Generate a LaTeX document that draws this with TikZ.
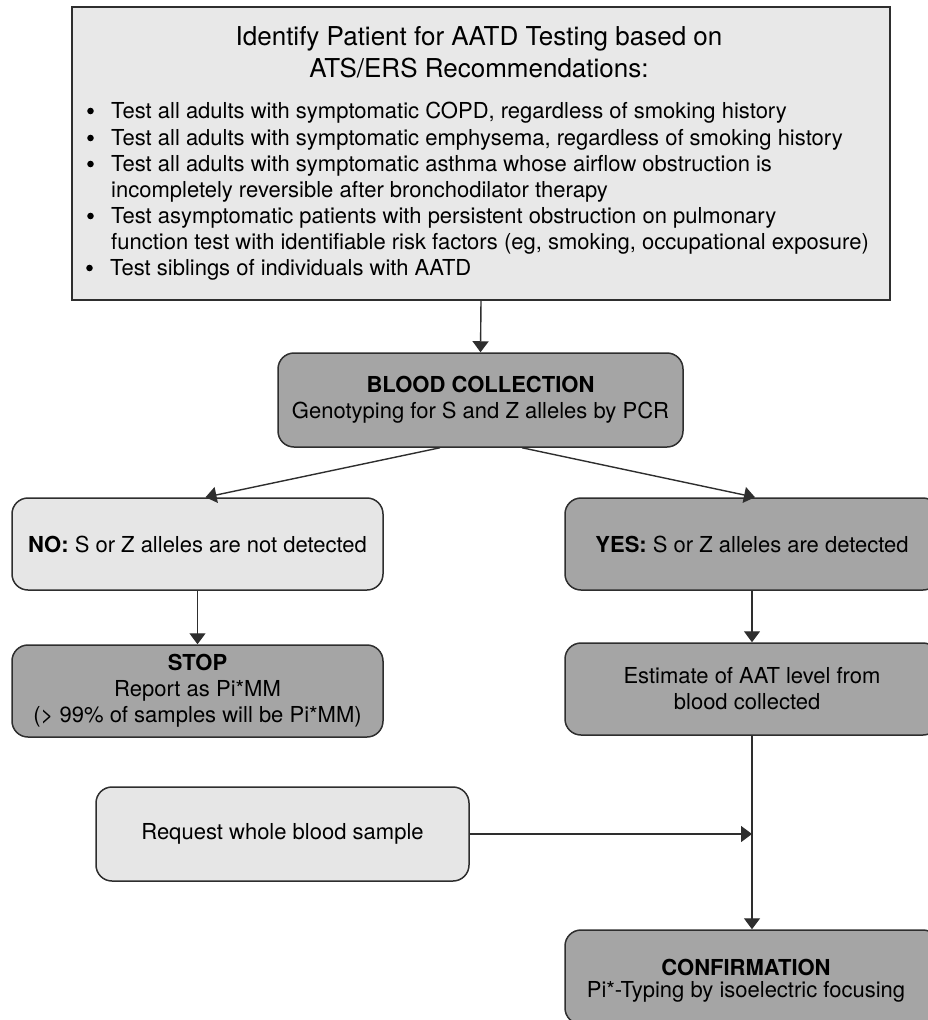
\documentclass[tikz,border=0pt]{standalone}
\usepackage{fontspec}
\setmainfont{TeX Gyre Heros}
\usetikzlibrary{arrows.meta}
\definecolor{lightbox}{HTML}{E6E6E6}
\definecolor{topbox}{HTML}{E8E8E8}
\definecolor{darkbox}{HTML}{A5A5A5}
\definecolor{edge}{HTML}{2E2E2E}
\tikzset{
  box/.style={draw=edge, line width=1.5pt, rounded corners=16pt, inner sep=0pt,
    align=center, font=\fontsize{22}{26}\selectfont},
  lightnode/.style={box, fill=lightbox},
  darknode/.style={box, fill=darkbox},
  arr/.style={draw=edge, line width=1.4pt, -{Triangle[width=16pt,length=11pt]}},
  bul/.style={inner sep=0pt, anchor=base west, font=\fontsize{22}{26}\selectfont},
  ttl/.style={inner sep=0pt, anchor=base, font=\fontsize{26}{32}\selectfont},
  dot/.style={fill=black},
}
\newcommand{\nb}{\hspace*{25pt}}
\begin{document}
\begin{tikzpicture}[x=1pt,y=-1pt]
\useasboundingbox (0,0) rectangle (927,1020);

% top box
\node[draw=edge, line width=1.8pt, fill=topbox, minimum width=818pt, minimum height=293pt, inner sep=0pt] (top) at (481,153.5) {};
\node[ttl] (t1) at (479,45) {Identify Patient for AATD Testing based on};
\node[ttl] (t2) at (479,77) {ATS/ERS Recommendations:};
\node[bul] (b1) at (86,118) {\nb Test all adults with symptomatic COPD, regardless of smoking history};
\node[bul] (b2) at (86,145) {\nb Test all adults with symptomatic emphysema, regardless of smoking history};
\node[bul] (b3) at (86,171) {\nb Test all adults with symptomatic asthma whose airflow obstruction is};
\node[bul] (b4) at (86,197) {\nb incompletely reversible after bronchodilator therapy};
\node[bul] (b5) at (86,223) {\nb Test asymptomatic patients with persistent obstruction on pulmonary};
\node[bul] (b6) at (86,249) {\nb function test with identifiable risk factors (eg, smoking, occupational exposure)};
\node[bul] (b7) at (85,275) {\nb Test siblings of individuals with AATD};
\foreach \b in {b1,b2,b3,b5,b7}
  \fill[dot] ([xshift=4.5pt,yshift=7pt]\b.base west) circle (3.3pt);

% boxes
\node[darknode, minimum width=405pt, minimum height=94pt] (blood) at (480.5,400)
  {\textbf{BLOOD COLLECTION}\\Genotyping for S and Z alleles by PCR};
\node[lightnode, minimum width=371pt, minimum height=92pt] (no) at (197.5,544)
  {\textbf{NO:} S or Z alleles are not detected};
\node[darknode, minimum width=374pt, minimum height=92pt] (yes) at (752,544)
  {\textbf{YES:} S or Z alleles are detected};
\node[darknode, minimum width=371pt, minimum height=92pt] (stop) at (197.5,691)
  {\textbf{STOP}\\Report as Pi*MM\\(> 99\% of samples will be Pi*MM)};
\node[darknode, minimum width=374pt, minimum height=92pt] (est) at (752,689)
  {Estimate of AAT level from\\blood collected\hphantom{ii}};
\node[lightnode, minimum width=373pt, minimum height=94pt] (req) at (282.5,834)
  {Request whole blood sample};
\node[darknode, minimum width=374pt, minimum height=94pt] (conf) at (752,977) {};
\node[inner sep=0pt, align=center, font=\fontsize{22}{22}\selectfont] (conft) at (746,981)
  {\textbf{CONFIRMATION}\\Pi*-Typing by isoelectric focusing};

% connectors
\draw[arr] (top.south) -- (blood.north);
\draw[arr] ([xshift=-40.5pt]blood.south) -- ([xshift=8pt]no.north);
\draw[arr] ([xshift=41.5pt]blood.south) -- ([xshift=3pt]yes.north);
\draw[arr] (no.south) -- (stop.north);
\draw[arr] (yes.south) -- (est.north);
\draw[arr] (est.south) -- (conf.north);
\coordinate (j) at (est.south |- req.east);
\draw[arr] (req.east) -- (j);
\end{tikzpicture}
\end{document}
